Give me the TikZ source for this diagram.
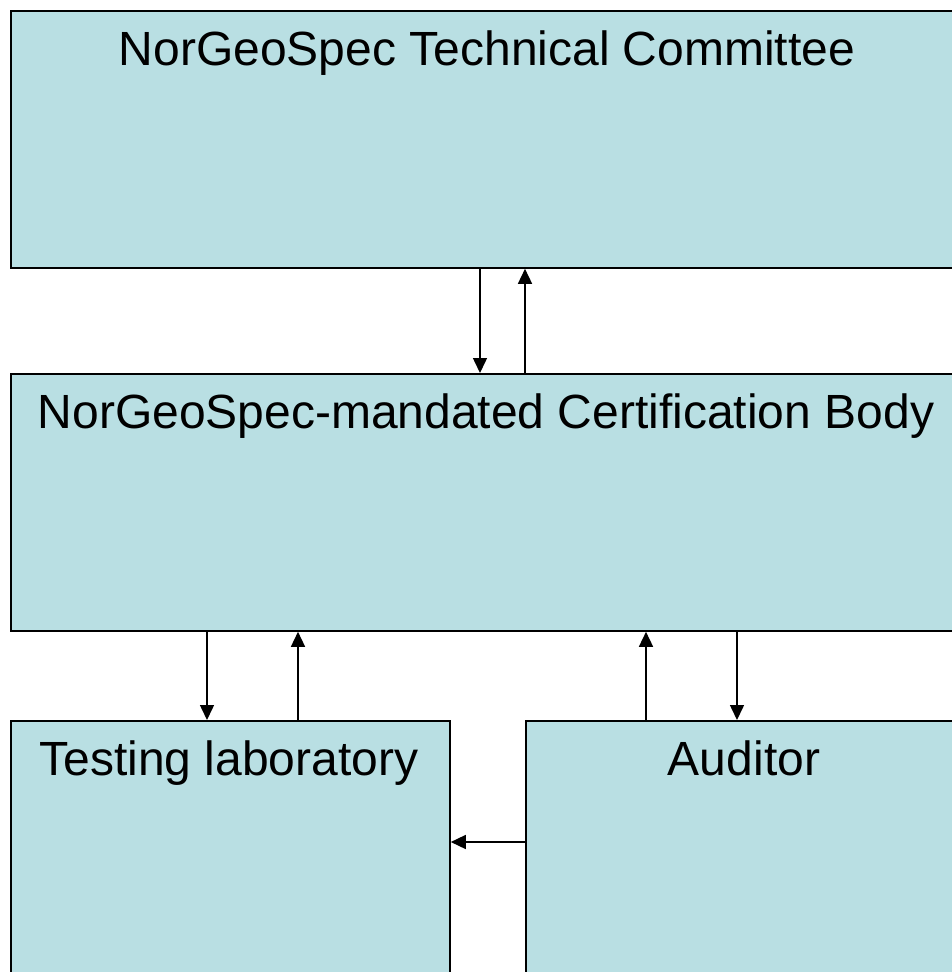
\documentclass[tikz,border=0pt]{standalone}
\usepackage{fontspec}
\setmainfont{Liberation Sans}
\usetikzlibrary{arrows.meta}
\definecolor{boxfill}{RGB}{185,223,227}
\tikzset{
  box/.style={draw=black, line width=1.8pt, fill=boxfill, anchor=north west, inner sep=0pt},
  boxlabel/.style={anchor=base, inner sep=0pt, font=\fontsize{48}{56}\selectfont},
  arr/.style={draw=black, line width=1.5pt, -{Triangle[width=14pt,length=15pt]}}
}
\begin{document}
\begin{tikzpicture}[x=1pt,y=-1pt]
\useasboundingbox (0,0) rectangle (952,972);
\clip (0,0) rectangle (952,972);
\node[box, minimum width=954pt, minimum height=257pt] (tc) at (10,10) {};
\node[box, minimum width=954pt, minimum height=257pt] (cb) at (10,373) {};
\node[box, minimum width=439pt, minimum height=270pt] (lab) at (10,720) {};
\node[box, minimum width=439pt, minimum height=270pt] (aud) at (525,720) {};
\node[boxlabel] (tct) at (487,65) {NorGeoSpec Technical Committee};
\node[boxlabel] (cbt) at (486,428) {NorGeoSpec-mandated Certification Body};
\node[boxlabel] (labt) at (229,775) {Testing laboratory};
\node[boxlabel] (audt) at (744,775) {Auditor};
\draw[arr] (tc.south -| 480,0) -- (cb.north -| 480,0);
\draw[arr] (cb.north -| 525,0) -- (tc.south -| 525,0);
\draw[arr] (cb.south -| 207,0) -- (lab.north -| 207,0);
\draw[arr] (lab.north -| 298,0) -- (cb.south -| 298,0);
\draw[arr] (aud.north -| 646,0) -- (cb.south -| 646,0);
\draw[arr] (cb.south -| 737,0) -- (aud.north -| 737,0);
\draw[arr] (aud.west |- 0,842) -- (lab.east |- 0,842);
\end{tikzpicture}
\end{document}
